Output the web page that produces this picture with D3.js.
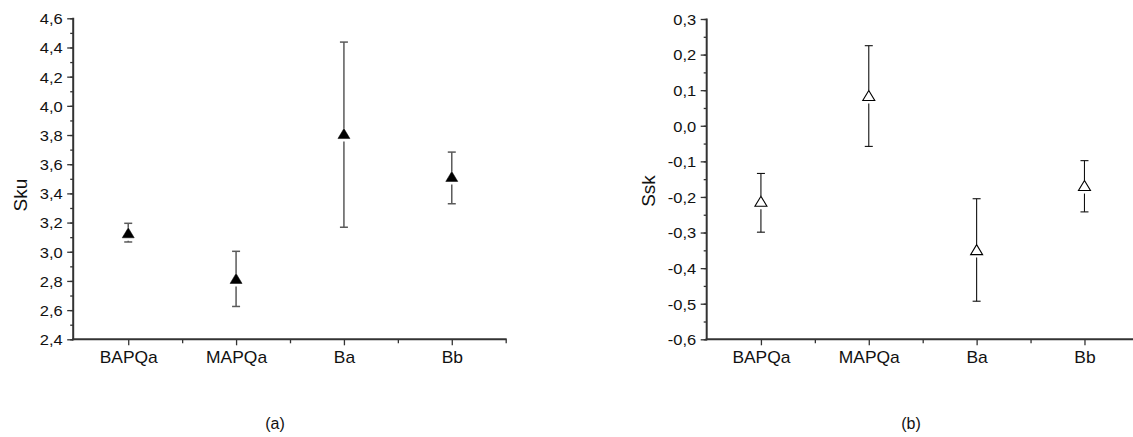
<!DOCTYPE html>
<html>
<head>
<meta charset="utf-8">
<script src="https://cdn.jsdelivr.net/npm/d3@7"></script>
<style>
  html, body { margin: 0; padding: 0; background: #fff; }
  svg text { font-family: "Liberation Sans", Arial, sans-serif; fill: #111; }
</style>
</head>
<body>
<svg id="chart" width="1133" height="437"></svg>
<script>
// categories shared by both panels
const categories = ["BAPQa", "MAPQa", "Ba", "Bb"];

// panel (a): Sku
const skuValues = [3.13, 2.817, 3.81, 3.516];
const skuHigh   = [3.195, 3.003, 4.437, 3.683];
const skuLow    = [3.067, 2.625, 3.168, 3.329];
const skuTicks  = [2.4, 2.6, 2.8, 3.0, 3.2, 3.4, 3.6, 3.8, 4.0, 4.2, 4.4, 4.6];

// panel (b): Ssk
const sskValues = [-0.212, 0.085, -0.348, -0.168];
const sskHigh   = [-0.134, 0.225, -0.205, -0.098];
const sskLow    = [-0.299, -0.058, -0.493, -0.242];
const sskTicks  = [-0.6, -0.5, -0.4, -0.3, -0.2, -0.1, 0.0, 0.1, 0.2, 0.3];

const svg = d3.select("#chart");
const fmt = v => d3.format(".1f")(v).replace(".", ",").replace("−", "-");

function drawPanel(opt) {
  const g = svg.append("g");
  const x = d3.scaleLinear().domain([0.5, 4.5]).range([opt.x0, opt.x0 + 431.4]);
  const y = d3.scaleLinear().domain(opt.domain).range([339.3, opt.top]);

  // minor y ticks
  const minorY = d3.range(opt.domain[0], opt.domain[1] + 1e-9, opt.minorStep);
  g.append("g").attr("transform", `translate(${opt.axisX},0)`)
    .call(d3.axisLeft(y).tickValues(minorY).tickSize(3).tickFormat(""))
    .call(a => a.select(".domain").remove())
    .call(a => a.selectAll("line").attr("stroke", "#333").attr("stroke-width", 1.3));

  // major y ticks
  const ya = g.append("g").attr("transform", `translate(${opt.axisX},0)`)
    .call(d3.axisLeft(y).tickValues(opt.ticks).tickSize(6).tickFormat(fmt));
  ya.select(".domain").remove();
  ya.selectAll("line").attr("stroke", "#333").attr("stroke-width", 1.3);
  ya.selectAll("text").attr("font-size", 15).attr("fill", "#111")
    .attr("font-family", "Liberation Sans, Arial, sans-serif")
    .attr("transform", "scale(1.1,1)").attr("x", -10.5 / 1.1).attr("dy", "0.36em");

  // x ticks
  g.append("g").attr("transform", "translate(0,339.3)")
    .call(d3.axisBottom(x).tickValues([1.5, 2.5, 3.5, 4.5]).tickSize(4).tickFormat(""))
    .call(a => a.select(".domain").remove())
    .call(a => a.selectAll("line").attr("stroke", "#333").attr("stroke-width", 1.3));
  const xa = g.append("g").attr("transform", "translate(0,339.3)")
    .call(d3.axisBottom(x).tickValues([1, 2, 3, 4]).tickSize(6)
      .tickFormat(d => categories[d - 1]));
  xa.select(".domain").remove();
  xa.selectAll("line").attr("stroke", "#333").attr("stroke-width", 1.3);
  xa.selectAll("text").attr("font-size", 16).attr("fill", "#111")
    .attr("font-family", "Liberation Sans, Arial, sans-serif")
    .attr("y", 23.4).attr("dy", null)
    .attr("transform", "scale(1.09,1)");

  // axis lines
  g.append("line").attr("x1", opt.axisX).attr("x2", opt.axisX)
    .attr("y1", y(opt.domain[1]) - 0.5).attr("y2", 340.3)
    .attr("stroke", "#333").attr("stroke-width", 2);
  g.append("line").attr("x1", opt.axisX - 1).attr("x2", x(4.5) + 1)
    .attr("y1", 339.3).attr("y2", 339.3)
    .attr("stroke", "#333").attr("stroke-width", 2);

  // axis title
  g.append("text")
    .attr("transform", `translate(${opt.titleX},${opt.titleY}) rotate(-90)`)
    .attr("text-anchor", "middle").attr("dy", "0.35em")
    .attr("font-size", 19).text(opt.title);

  // panel label
  g.append("text").attr("x", opt.labelX).attr("y", 429)
    .attr("text-anchor", "middle").attr("font-size", 16)
    .attr("font-family", "Liberation Sans Narrow, Liberation Sans, Arial, sans-serif")
    .text(opt.label);

  // error bars + markers
  const th = 10, tw = 12;
  const pts = categories.map((c, i) => ({ i: i + 1, v: opt.values[i], hi: opt.high[i], lo: opt.low[i] }));
  const eb = g.append("g").attr("stroke", opt.barColor).attr("stroke-width", opt.barWidth);
  pts.forEach(d => {
    const cx = x(d.i), cy = y(d.v);
    eb.append("line").attr("x1", cx).attr("x2", cx).attr("y1", y(d.hi)).attr("y2", cy - th / 2);
    eb.append("line").attr("x1", cx).attr("x2", cx).attr("y1", cy + th / 2 + 3).attr("y2", y(d.lo));
    eb.append("line").attr("x1", cx - 4).attr("x2", cx + 4).attr("y1", y(d.hi)).attr("y2", y(d.hi));
    eb.append("line").attr("x1", cx - 4).attr("x2", cx + 4).attr("y1", y(d.lo)).attr("y2", y(d.lo));
  });
  g.append("g").selectAll("path").data(pts).join("path")
    .attr("d", d => {
      const cx = x(d.i), cy = y(d.v);
      return `M${cx},${cy - th / 2}L${cx + tw / 2},${cy + th / 2}L${cx - tw / 2},${cy + th / 2}Z`;
    })
    .attr("fill", opt.filled ? "#000" : "#fff")
    .attr("stroke", "#000").attr("stroke-width", opt.filled ? 0.5 : 1.1);
}

drawPanel({
  x0: 74.3, axisX: 73.2, top: 18.3, domain: [2.4, 4.6], ticks: skuTicks, minorStep: 0.1,
  values: skuValues, high: skuHigh, low: skuLow, filled: true,
  barColor: "#5a5a5a", barWidth: 1.5,
  title: "Sku", titleX: 20, titleY: 195, label: "(a)", labelX: 275
});

drawPanel({
  x0: 707, axisX: 706.7, top: 19, domain: [-0.6, 0.3], ticks: sskTicks, minorStep: 0.05,
  values: sskValues, high: sskHigh, low: sskLow, filled: false,
  barColor: "#111", barWidth: 1.1,
  title: "Ssk", titleX: 648, titleY: 191, label: "(b)", labelX: 911
});
</script>
</body>
</html>
